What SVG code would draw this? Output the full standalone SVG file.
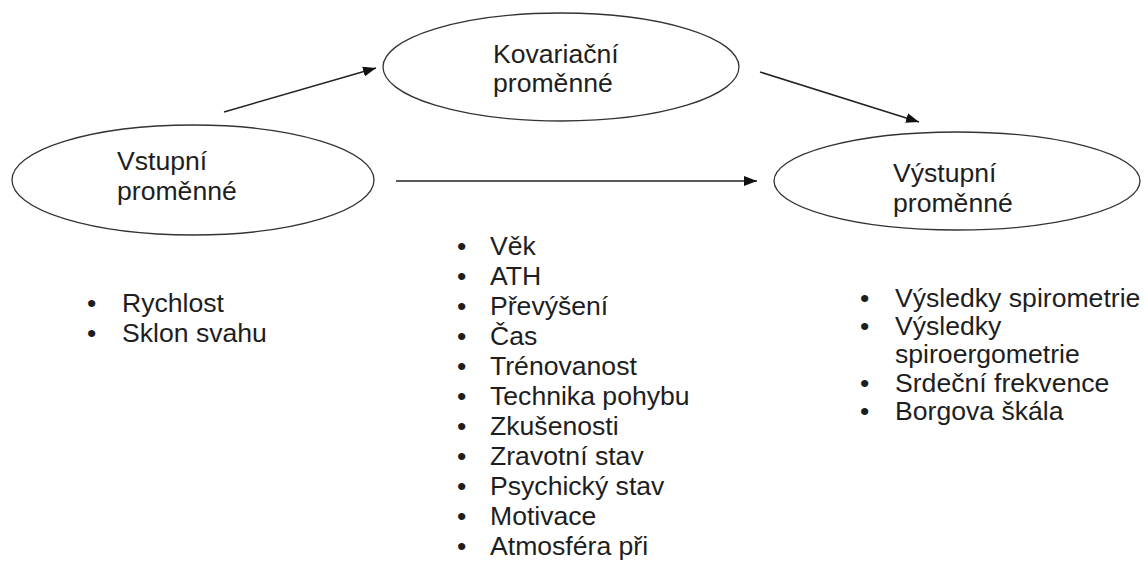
<svg xmlns="http://www.w3.org/2000/svg" width="1148" height="563" viewBox="0 0 1148 563">
<style>
text{font-family:"Liberation Sans",Arial,sans-serif;font-size:26.6px;fill:#1e1e1e}
.node ellipse{fill:#fff;stroke:#333;stroke-width:1.3}
.conn line{stroke:#222;stroke-width:1.5;fill:none}
</style>
<defs>
<marker id="ah" viewBox="0 0 13 10" refX="13" refY="5" markerWidth="13" markerHeight="10" markerUnits="userSpaceOnUse" orient="auto">
<path d="M0,0 L13,5 L0,10 Z" fill="#111"/>
</marker>
</defs>
<rect width="1148" height="563" fill="#fff"/>
<g id="connectors" class="conn">
<line x1="224" y1="112" x2="376" y2="68" marker-end="url(#ah)"/>
<line x1="396" y1="181" x2="757" y2="181" marker-end="url(#ah)"/>
<line x1="760" y1="72" x2="919" y2="122" marker-end="url(#ah)"/>
</g>
<g id="vstupni" class="node">
<ellipse cx="193" cy="180" rx="181" ry="55"/>
<text x="117" y="170">Vstupní</text>
<text x="117" y="200">proměnné</text>
</g>
<g id="kovariacni" class="node">
<ellipse cx="561" cy="67" rx="178" ry="54"/>
<text x="493" y="63">Kovariační</text>
<text x="493" y="92">proměnné</text>
</g>
<g id="vystupni" class="node">
<ellipse cx="957" cy="181" rx="183" ry="49"/>
<text x="893" y="182">Výstupní</text>
<text x="893" y="212">proměnné</text>
</g>
<g id="list-vstupni">
<text x="87" y="312">•</text><text x="122" y="312">Rychlost</text>
<text x="87" y="342">•</text><text x="122" y="342">Sklon svahu</text>
</g>
<g id="list-kovariacni">
<text x="457" y="255">•</text><text x="490" y="255">Věk</text>
<text x="457" y="285">•</text><text x="490" y="285">ATH</text>
<text x="457" y="315">•</text><text x="490" y="315">Převýšení</text>
<text x="457" y="345">•</text><text x="490" y="345">Čas</text>
<text x="457" y="375">•</text><text x="490" y="375">Trénovanost</text>
<text x="457" y="405">•</text><text x="490" y="405">Technika pohybu</text>
<text x="457" y="435">•</text><text x="490" y="435">Zkušenosti</text>
<text x="457" y="465">•</text><text x="490" y="465">Zravotní stav</text>
<text x="457" y="495">•</text><text x="490" y="495">Psychický stav</text>
<text x="457" y="525">•</text><text x="490" y="525">Motivace</text>
<text x="457" y="555">•</text><text x="490" y="555">Atmosféra při</text>
</g>
<g id="list-vystupni">
<text x="860" y="307">•</text><text x="895" y="307">Výsledky spirometrie</text>
<text x="860" y="335">•</text><text x="895" y="335">Výsledky</text>
<text x="895" y="363">spiroergometrie</text>
<text x="860" y="392">•</text><text x="895" y="392">Srdeční frekvence</text>
<text x="860" y="420">•</text><text x="895" y="420">Borgova škála</text>
</g>
</svg>
